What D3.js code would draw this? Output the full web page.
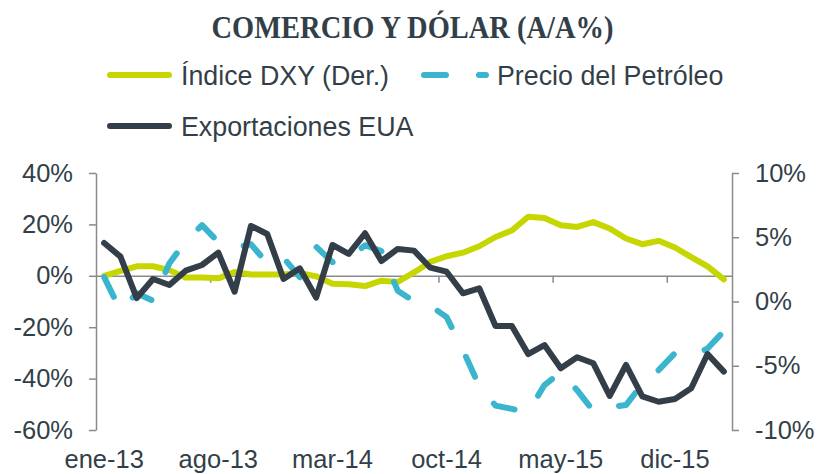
<!DOCTYPE html>
<html>
<head>
<meta charset="utf-8">
<script src="https://cdn.jsdelivr.net/npm/d3@7"></script>
<style>
  html, body { margin: 0; padding: 0; background: #ffffff; }
  svg { display: block; }
</style>
</head>
<body>
<svg id="chart" width="817" height="474"></svg>
<script>
// ---- data ----
const months = ["ene-13","feb-13","mar-13","abr-13","may-13","jun-13","jul-13","ago-13","sep-13","oct-13","nov-13","dic-13",
  "ene-14","feb-14","mar-14","abr-14","may-14","jun-14","jul-14","ago-14","sep-14","oct-14","nov-14","dic-14",
  "ene-15","feb-15","mar-15","abr-15","may-15","jun-15","jul-15","ago-15","sep-15","oct-15","nov-15","dic-15",
  "ene-16","feb-16","mar-16"];
const xLabels = ["ene-13","ago-13","mar-14","oct-14","may-15","dic-15"];
const dxy = [0.0, 1.9, 3.7, 3.7, 2.2, -0.7, -0.7, -1.0, 1.5, 0.5, 0.5, 0.5,
  1.1, -0.2, -3.1, -3.3, -4.0, -1.9, -2.4, 1.3, 5.4, 7.6, 9.0, 11.5,
  15.1, 17.6, 23.0, 22.5, 19.7, 19.0, 20.9, 18.4, 14.5, 12.3, 13.6, 11.0,
  7.3, 3.7, -1.4];
const oil = [-0.5, -13.5, -6.8, -9.7, 4.9, 13.4, 19.7, 13.1, 10.9, 12.3, 4.9, 7.0,
  -0.5, 11.3, 5.3, 6.8, 11.9, 9.6, -5.8, -9.9, -11.6, -16.1, -28.9, -42.9,
  -50.5, -51.8, -53.0, -42.5, -37.5, -44.5, -52.6, -51.1, -50.3, -42.1, -36.7, -30.1,
  -31.3, -28.3, -21.5];
const exportsEUA = [4.55, 3.49, 0.27, 1.75, 1.28, 2.40, 2.84, 3.80, 0.76, 5.88, 5.25, 1.75,
  2.58, 0.31, 4.40, 3.70, 5.31, 3.15, 4.09, 3.96, 2.63, 2.32, 0.64, 1.03,
  -1.91, -1.91, -4.09, -3.39, -5.20, -4.34, -4.81, -7.35, -4.94, -7.39, -7.80, -7.59,
  -6.75, -4.09, -5.46];
const leftTicks = [-60, -40, -20, 0, 20, 40];
const rightTicks = [-10, -5, 0, 5, 10];
const title = "COMERCIO Y DÓLAR (A/A%)";
const legendNames = ["Índice DXY (Der.)", "Precio del Petróleo", "Exportaciones EUA"];

// ---- styles ----
const cGreen = "#c5d600", cTeal = "#3bb4ce", cDark = "#333e48", cText = "#333f48", cAxis = "#8a8a8a";
const font = "'Liberation Sans', Arial, sans-serif";
const dash = "22,33";

const svg = d3.select("#chart");
const L = 96, R = 732, T = 173, B = 430;

const x = d3.scaleBand().domain(months).range([L, R]).paddingInner(0).paddingOuter(0);
const xc = d => x(d) + x.bandwidth() / 2;
const xi = d3.scaleLinear().domain([0, months.length]).range([L, R]);
const yL = d3.scaleLinear().domain([-60, 40]).range([B, T]);
const yR = d3.scaleLinear().domain([-10, 10]).range([B, T]);

// title
svg.append("text")
  .attr("x", 412.5).attr("y", 38)
  .attr("text-anchor", "middle")
  .attr("font-family", "'Liberation Serif', 'Times New Roman', serif")
  .attr("font-weight", "bold")
  .attr("font-size", 31)
  .attr("fill", cText)
  .attr("textLength", 402)
  .attr("lengthAdjust", "spacingAndGlyphs")
  .text(title);

// legend
function legendItem(x0, x1, y, color, dashed, label, tx) {
  svg.append("line").attr("x1", x0).attr("x2", x1).attr("y1", y).attr("y2", y)
    .attr("stroke", color).attr("stroke-width", 6).attr("stroke-linecap", "round")
    .attr("stroke-dasharray", dashed ? dash : null);
  svg.append("text").attr("x", tx).attr("y", y + 9.7)
    .attr("font-family", font).attr("font-size", 26.8).attr("fill", cText).text(label);
}
legendItem(110, 169, 75, cGreen, false, legendNames[0], 181);
legendItem(424, 486, 75, cTeal, true, legendNames[1], 497);
legendItem(110, 169, 126, cDark, false, legendNames[2], 181);

// left axis
const gL = svg.append("g").attr("transform", `translate(${L},0)`)
  .call(d3.axisLeft(yL).tickValues(leftTicks).tickFormat(d => d + "%").tickSize(7).tickPadding(16).tickSizeOuter(0));
// right axis
const gR = svg.append("g").attr("transform", `translate(${R},0)`)
  .call(d3.axisRight(yR).tickValues(rightTicks).tickFormat(d => d + "%").tickSize(7).tickPadding(16).tickSizeOuter(0));
[gL, gR].forEach(g => {
  g.select(".domain").attr("stroke", cAxis).attr("stroke-width", 1.5);
  g.selectAll(".tick line").attr("stroke", cAxis).attr("stroke-width", 1.5);
  g.selectAll(".tick text").attr("font-family", font).attr("font-size", 25.5).attr("fill", cText);
});

// horizontal axis at zero
const gX = svg.append("g").attr("transform", `translate(0,${yL(0)})`)
  .call(d3.axisBottom(xi).tickValues([7, 14, 21, 28, 35]).tickFormat("").tickSize(7).tickSizeOuter(0));
gX.select(".domain").attr("stroke", cAxis).attr("stroke-width", 1.5);
gX.selectAll(".tick line").attr("stroke", cAxis).attr("stroke-width", 1.5);

// category labels at bottom
const gXL = svg.append("g").attr("transform", `translate(0,${B})`)
  .call(d3.axisBottom(x).tickValues(xLabels).tickSize(0).tickPadding(20));
gXL.select(".domain").remove();
gXL.selectAll(".tick text").attr("font-family", font).attr("font-size", 25.5).attr("fill", cText);

// lines
const lineL = d3.line().x((d, i) => xc(months[i])).y(d => yL(d));
const lineR = d3.line().x((d, i) => xc(months[i])).y(d => yR(d));

svg.append("path").datum(dxy).attr("d", lineL)
  .attr("fill", "none").attr("stroke", cGreen).attr("stroke-width", 6)
  .attr("stroke-linejoin", "round").attr("stroke-linecap", "round");
svg.append("path").datum(oil).attr("d", lineL)
  .attr("fill", "none").attr("stroke", cTeal).attr("stroke-width", 6)
  .attr("stroke-dasharray", dash)
  .attr("stroke-linejoin", "round").attr("stroke-linecap", "round");
svg.append("path").datum(exportsEUA).attr("d", lineR)
  .attr("fill", "none").attr("stroke", cDark).attr("stroke-width", 6)
  .attr("stroke-linejoin", "round").attr("stroke-linecap", "round");
</script>
</body>
</html>
